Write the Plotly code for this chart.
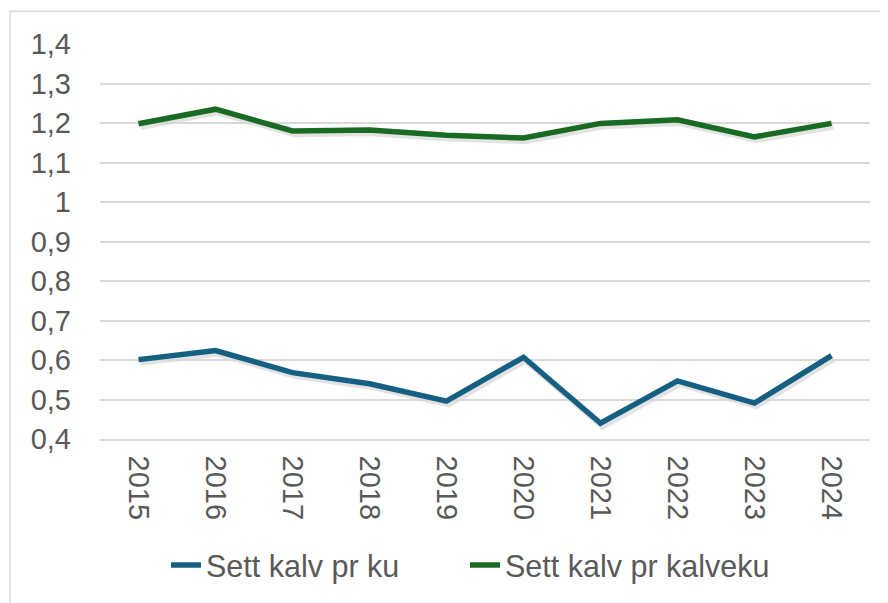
import plotly.graph_objects as go

years = ["2015", "2016", "2017", "2018", "2019", "2020", "2021", "2022", "2023", "2024"]
kalv_pr_ku = [0.601, 0.624, 0.568, 0.540, 0.496, 0.607, 0.440, 0.547, 0.491, 0.611]
kalv_pr_kalveku = [1.198, 1.235, 1.180, 1.182, 1.169, 1.162, 1.199, 1.208, 1.165, 1.199]
series_names = ["Sett kalv pr ku", "Sett kalv pr kalveku"]
colors = ["#156082", "#196B24"]

# page has an 8px body margin; design in window pixel coords
OFF = 8
SX, SY = 2, 3  # shadow offset in px
W, H = 888 - OFF, 603 - OFF
ML, MR, MT, MB = 100 - OFF, 18 - SX, 44 - OFF, 169 - OFF - SY
pw = W - ML - MR
ph = H - MT - MB

def px_x(p):
    return (p - OFF - ML) / pw

def px_y(p):
    return (H - MB - (p - OFF)) / ph

dx = SX / pw
dy = SY / ph

fig = go.Figure()
# soft drop shadow under the lines (same data on a hidden, slightly offset subplot)
for vals in [kalv_pr_ku, kalv_pr_kalveku]:
    fig.add_trace(go.Scatter(x=years, y=vals, mode="lines", showlegend=False,
                             hoverinfo="skip", xaxis="x", yaxis="y",
                             line=dict(color="rgba(0,0,0,0.11)", width=6.5)))
legends = ["legend", "legend2"]
for name, vals, col, lg in zip(series_names, [kalv_pr_ku, kalv_pr_kalveku], colors, legends):
    fig.add_trace(go.Scatter(x=years, y=vals, name=name, mode="lines",
                             xaxis="x2", yaxis="y2", legend=lg,
                             line=dict(color=col, width=5.5)))

font = dict(family="Liberation Sans, Arial, sans-serif", size=29, color="#595959")
lfont = dict(family="Liberation Sans, Arial, sans-serif", size=30.5, color="#595959")

fig.update_layout(
    width=W, height=H,
    margin=dict(l=ML, r=MR, t=MT, b=MB, pad=0),
    paper_bgcolor="white", plot_bgcolor="rgba(0,0,0,0)",
    separators=", ",
    font=font,
    showlegend=True,
    legend=dict(orientation="h", x=px_x(166), xanchor="left",
                y=px_y(569), yanchor="middle",
                font=lfont, bgcolor="rgba(0,0,0,0)"),
    legend2=dict(orientation="h", x=px_x(465), xanchor="left",
                 y=px_y(569), yanchor="middle",
                 font=lfont, bgcolor="rgba(0,0,0,0)"),
    xaxis=dict(type="category", range=[-0.5, 9.5], visible=False,
               domain=[dx, 1], anchor="y"),
    yaxis=dict(range=[0.4, 1.4], visible=False,
               domain=[0, 1 - dy], anchor="x"),
    xaxis2=dict(type="category", range=[-0.5, 9.5], showgrid=False,
                domain=[0, 1 - dx], anchor="y2",
                tickangle=90, showline=True, linecolor="#d9d9d9", linewidth=1.5,
                ticks="", ticklabelstandoff=9, tickfont=font),
    yaxis2=dict(range=[0.4, 1.4], dtick=0.1, tick0=0.4, showgrid=True,
                domain=[dy, 1], anchor="x2",
                gridcolor="#d9d9d9", gridwidth=1.5, zeroline=False, showline=False,
                ticks="", ticklabelstandoff=28, tickfont=font),
    shapes=[dict(type="rect", xref="paper", yref="paper",
                 x0=px_x(10), x1=px_x(900), y0=px_y(620), y1=px_y(11),
                 line=dict(color="#d9d9d9", width=1.5), layer="below")],
)

fig.write_html("out.html")
